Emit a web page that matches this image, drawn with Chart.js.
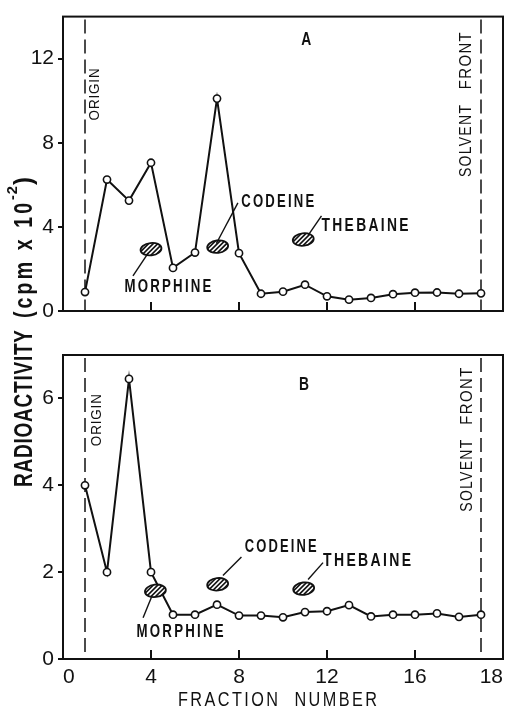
<!DOCTYPE html>
<html><head><meta charset="utf-8">
<script src="https://cdn.jsdelivr.net/npm/chart.js@4.4.1/dist/chart.umd.min.js"></script>
<style>
html,body{margin:0;padding:0;background:#fff;}
#wrap{position:relative;width:511px;height:709px;background:#fff;}
canvas{position:absolute;left:0;top:0;}
</style></head><body>
<div id="wrap"><canvas id="cB" width="511" height="709"></canvas><canvas id="cA" width="511" height="709"></canvas></div>
<script>
// ---- data ----
const fractions = [1,2,3,4,5,6,7,8,9,10,11,12,13,14,15,16,17,18,19];
const valuesA = [0.9,6.25,5.25,7.05,2.05,2.78,10.1,2.75,0.82,0.92,1.25,0.7,0.54,0.62,0.8,0.87,0.88,0.82,0.84];
const valuesB = [4.0,2.0,6.45,2.0,1.02,1.02,1.25,1.0,1.0,0.96,1.08,1.1,1.24,0.98,1.02,1.02,1.05,0.97,1.02];
const xTickValues = [0,4,8,12,16,20];
const xTickLabels = ['0','4','8','12','16','18'];
const yTicksA = [0,4,8,12];
const yTicksB = [0,2,4,6];
const originFraction = 1;
const solventFraction = 19;
const spotNames = ['MORPHINE','CODEINE','THEBAINE'];
const spotsA = [[4.0,2.94],[7.03,3.06],[10.92,3.4]];
const spotsB = [[4.2,1.57],[7.03,1.72],[10.94,1.62]];
const yTitleMain = 'RADIOACTIVITY';
const yTitleUnit = '(cpm x 10';
const yTitleSup = '-2';
const xTitle = 'FRACTION  NUMBER';

const FONT = "'Liberation Sans',Arial,sans-serif";
const INK = '#111';

// annotation layout (data coordinates) and text widths (px)
const annA = {
  letter:'A', letterPos:[11.06,12.87], originPos:[1.44,10.3],
  solventPos:[18.33,8.08], frontPos:[18.33,11.9],
  leaders:[[[3.87,2.75],[3.18,1.67]],[[6.97,3.21],[7.95,5.14]],[[11.14,3.6],[11.75,4.52]]],
  labels:[[4.77,1.16,'center',87],[8.1,5.19,'left',73],[11.75,4.05,'left',87]]
};
const annB = {
  letter:'B', letterPos:[10.95,6.32], originPos:[1.55,5.5],
  solventPos:[18.41,4.22], frontPos:[18.41,6.05],
  leaders:[[[4.02,1.42],[3.64,0.95]],[[7.27,1.92],[8.11,2.35]],[[11.14,1.83],[11.82,2.22]]],
  labels:[[5.32,0.62,'center',87],[8.26,2.58,'left',72],[11.82,2.25,'left',88]]
};

// draw text squeezed horizontally to a target width; (x,y) = start/center per align
function fitText(ctx, text, x, y, target, align, font, spacing){
  ctx.save();
  ctx.font=font; ctx.letterSpacing=spacing+'px';
  const w=ctx.measureText(text).width - spacing;
  const s=target/w;
  let start = x;
  if(align==='center') start = x - target/2;
  else if(align==='right') start = x - target;
  ctx.translate(start,y); ctx.scale(s,1);
  ctx.textAlign='left'; ctx.fillStyle=INK;
  ctx.fillText(text,0,0);
  ctx.restore();
}
function vFit(ctx, text, x, y, target, font, spacing){
  ctx.save(); ctx.translate(x,y); ctx.rotate(-Math.PI/2);
  ctx.textBaseline='middle';
  fitText(ctx,text,0,0,target,'center',font,spacing);
  ctx.restore();
}
function spot(ctx,cx,cy){
  const rx=10.5, ry=6.2, rot=-0.12;
  ctx.save(); ctx.beginPath(); ctx.ellipse(cx,cy,rx,ry,rot,0,Math.PI*2);
  ctx.fillStyle=INK; ctx.fill(); ctx.clip();
  ctx.strokeStyle='#fff'; ctx.lineWidth=1.6;
  for(let k=-24;k<=24;k+=4.6){ ctx.beginPath(); ctx.moveTo(cx+k-9,cy+9); ctx.lineTo(cx+k+9,cy-9); ctx.stroke(); }
  ctx.restore();
  ctx.save(); ctx.beginPath(); ctx.ellipse(cx,cy,rx,ry,rot,0,Math.PI*2);
  ctx.strokeStyle=INK; ctx.lineWidth=1.8; ctx.stroke(); ctx.restore();
}

function panelPlugin(ann, spots){
  return {
    id:'panel'+ann.letter,
    beforeDatasetsDraw(chart){
      const {ctx, chartArea:a, scales:{x}} = chart;
      ctx.save(); ctx.strokeStyle=INK; ctx.lineWidth=1.5; ctx.setLineDash([14,6]);
      [originFraction, solventFraction].forEach(f=>{
        const px=x.getPixelForValue(f);
        ctx.beginPath(); ctx.moveTo(px,a.top+3); ctx.lineTo(px,a.bottom); ctx.stroke();
      });
      ctx.restore();
    },
    afterDatasetsDraw(chart){
      const {ctx, chartArea:a, scales:{x,y}} = chart;
      const P = (p)=>[x.getPixelForValue(p[0]), y.getPixelForValue(p[1])];
      ctx.save();
      ctx.strokeStyle=INK; ctx.lineWidth=2; ctx.strokeRect(a.left,a.top,a.right-a.left,a.bottom-a.top);
      xTickValues.slice(1,-1).forEach(v=>{
        const px=x.getPixelForValue(v);
        ctx.beginPath(); ctx.moveTo(px,a.bottom); ctx.lineTo(px,a.bottom-9); ctx.stroke();
      });
      spots.forEach(s=>{ const [cx,cy]=P(s); spot(ctx,cx,cy); });
      ctx.lineWidth=1.4;
      ann.leaders.forEach(l=>{ const p0=P(l[0]), p1=P(l[1]); ctx.beginPath(); ctx.moveTo(p0[0],p0[1]); ctx.lineTo(p1[0],p1[1]); ctx.stroke(); });
      ctx.textBaseline='middle';
      ann.labels.forEach((l,i)=>{ const [px,py]=P(l); fitText(ctx,spotNames[i],px,py,l[3],l[2],'bold 18px '+FONT,3); });
      const lp=P(ann.letterPos); fitText(ctx,ann.letter,lp[0],lp[1],10,'center','bold 18px '+FONT,0);
      ctx.restore();
      const op=P(ann.originPos); vFit(ctx,'ORIGIN',op[0],op[1],52,'15px '+FONT,1);
      const sp=P(ann.solventPos); vFit(ctx,'SOLVENT',sp[0],sp[1],72,'16px '+FONT,1.5);
      const fp=P(ann.frontPos); vFit(ctx,'FRONT',fp[0],fp[1],57,'16px '+FONT,1.5);
    }
  };
}

const titlePlugin = {
  id:'titles',
  afterDraw(chart){
    const ctx=chart.ctx;
    ctx.save();
    ctx.rotate(-Math.PI/2);
    // rotated frame: screen (sx, sy) = (y', -x')
    ctx.textBaseline='alphabetic';
    const base=31.5;
    fitText(ctx,yTitleMain,-487,base,157,'left','bold 25px '+FONT,1);
    fitText(ctx,yTitleUnit,-318,base,115,'left','bold 25px '+FONT,4);
    fitText(ctx,yTitleSup,-200,base-15,14,'left','bold 15px '+FONT,1);
    fitText(ctx,')',-185,base,8,'left','bold 25px '+FONT,0);
    ctx.restore();
    ctx.save(); ctx.textBaseline='middle';
    fitText(ctx,xTitle,277.5,700,199,'center','20px '+FONT,3);
    ctx.restore();
  }
};

function yScale(max, ticks){
  return {
    type:'linear', min:0, max:max,
    afterBuildTicks:s=>{ s.ticks=ticks.map(v=>({value:v})); },
    afterFit:s=>{ s.width=63; },
    grid:{drawOnChartArea:false, drawTicks:true, tickLength:5, color:INK, lineWidth:2},
    border:{display:false},
    ticks:{color:INK, font:{family:FONT,size:21}, padding:4}
  };
}
function lineDataset(vals){
  return {data:fractions.map((f,i)=>({x:f,y:vals[i]})), borderColor:INK, borderWidth:2,
    pointRadius:3.6, pointBackgroundColor:'#fff', pointBorderColor:INK, pointBorderWidth:1.6,
    tension:0, fill:false};
}

new Chart(document.getElementById('cA'), {
  type:'line',
  data:{datasets:[lineDataset(valuesA)]},
  options:{
    responsive:false, animation:false, devicePixelRatio:1,
    layout:{padding:{top:10,right:8,bottom:398,left:0}},
    plugins:{legend:{display:false},tooltip:{enabled:false}},
    scales:{ x:{type:'linear',min:0,max:20,display:false}, y:yScale(14,yTicksA) }
  },
  plugins:[panelPlugin(annA, spotsA)]
});

new Chart(document.getElementById('cB'), {
  type:'line',
  data:{datasets:[lineDataset(valuesB)]},
  options:{
    responsive:false, animation:false, devicePixelRatio:1,
    layout:{padding:{top:355,right:8,bottom:0,left:0}},
    plugins:{legend:{display:false},tooltip:{enabled:false}},
    scales:{
      x:{type:'linear',min:0,max:20,
        afterBuildTicks:s=>{ s.ticks=xTickValues.map(v=>({value:v})); },
        afterFit:s=>{ s.height=50; s.paddingLeft=0; s.paddingRight=0; },
        grid:{display:false}, border:{display:false},
        ticks:{color:INK, font:{family:FONT,size:21}, padding:-2, maxRotation:0, autoSkip:false, align:'inner',
          callback:(v)=>{ const i=xTickValues.indexOf(v); return i>=0?xTickLabels[i]:''; }}
      },
      y:yScale(7,yTicksB)
    }
  },
  plugins:[panelPlugin(annB, spotsB), titlePlugin]
});
</script>
</body></html>
